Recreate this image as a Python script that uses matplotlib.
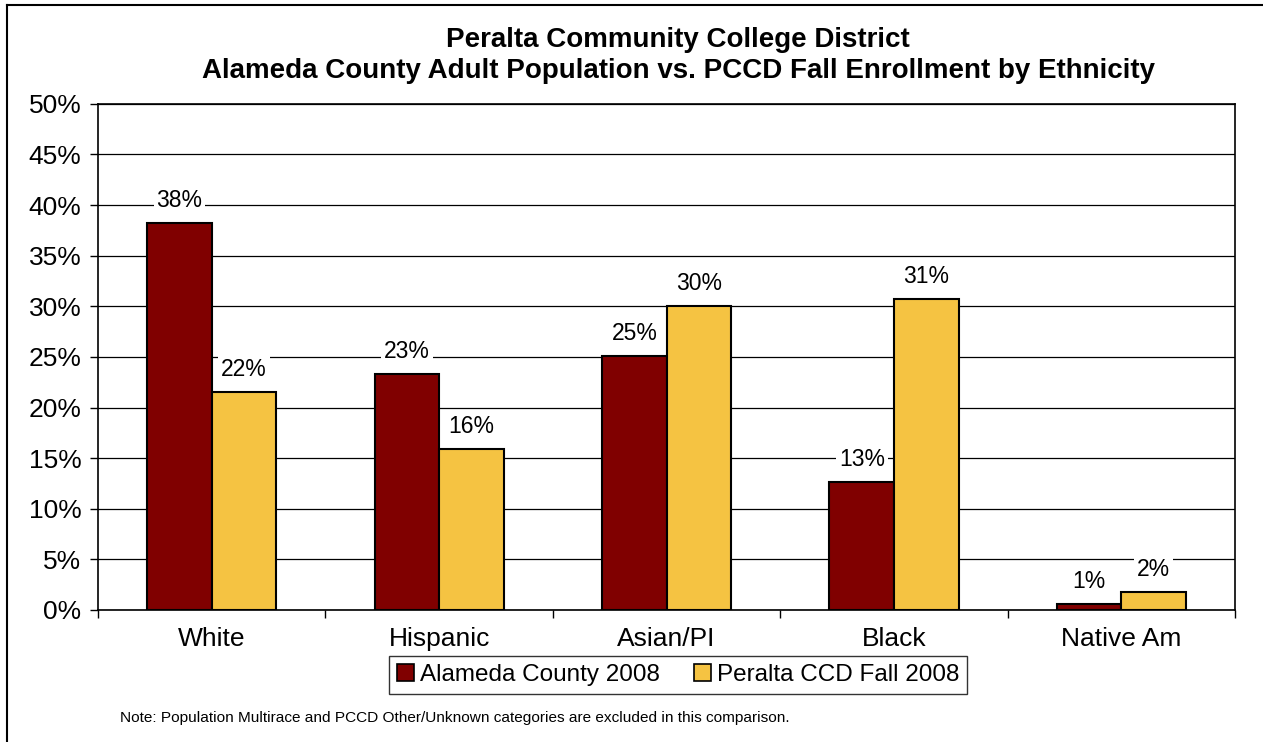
import matplotlib.pyplot as plt
import numpy as np
from matplotlib.lines import Line2D

plt.rcParams['font.family'] = ['Liberation Sans', 'DejaVu Sans']

categories = ["White", "Hispanic", "Asian/PI", "Black", "Native Am"]
alameda = [38.2, 23.3, 25.1, 12.6, 0.6]
peralta = [21.5, 15.9, 30.0, 30.7, 1.8]
alameda_labels = ["38%", "23%", "25%", "13%", "1%"]
peralta_labels = ["22%", "16%", "30%", "31%", "2%"]
series_names = ["Alameda County 2008", "Peralta CCD Fall 2008"]

red = "#800000"
gold = "#F5C342"

fig = plt.figure(figsize=(12.63, 7.42), dpi=100)
ax = fig.add_axes([0.0776, 0.178, 0.9004, 0.682])

x = np.arange(len(categories))
w = 0.284
b1 = ax.bar(x - w / 2, alameda, w, color=red, edgecolor="black", linewidth=1.5, zorder=3)
b2 = ax.bar(x + w / 2, peralta, w, color=gold, edgecolor="black", linewidth=1.5, zorder=3)

for bars, labels in ((b1, alameda_labels), (b2, peralta_labels)):
    for rect, lab in zip(bars, labels):
        ax.annotate(lab, (rect.get_x() + rect.get_width() / 2, rect.get_height()),
                    xytext=(0, 8), textcoords="offset points", ha="center", va="bottom",
                    fontsize=16.5, zorder=4,
                    bbox=dict(facecolor="white", edgecolor="none", pad=2))

ax.set_xlim(-0.5, len(categories) - 0.5)
ax.set_ylim(0, 50)
ax.set_yticks(np.arange(0, 51, 5))
ax.set_yticklabels([f"{v}%" for v in range(0, 51, 5)], fontsize=19)
ax.yaxis.grid(True, color="black", linewidth=0.9, zorder=0)
ax.set_axisbelow(True)

ax.set_xticks(np.arange(-0.5, len(categories), 1.0))
ax.set_xticklabels([])
ax.set_xticks(x, minor=True)
ax.set_xticklabels(categories, minor=True, fontsize=19)
ax.tick_params(axis="x", which="major", length=6, direction="out", width=1)
ax.tick_params(axis="x", which="minor", length=0, pad=12)
ax.tick_params(axis="y", length=6, width=1, pad=6)

for s in ax.spines.values():
    s.set_color("black")
    s.set_linewidth(1.2)

fig.text(0.537, 0.925, "Peralta Community College District\nAlameda County Adult Population vs. PCCD Fall Enrollment by Ethnicity",
         ha="center", va="center", fontsize=20, fontweight="bold", linespacing=1.28)

handles = [plt.Rectangle((0, 0), 1, 1, facecolor=red, edgecolor="black", linewidth=1.2),
           plt.Rectangle((0, 0), 1, 1, facecolor=gold, edgecolor="black", linewidth=1.2)]
fig.legend(handles, series_names, loc="center", bbox_to_anchor=(0.537, 0.090), ncol=2,
           fontsize=17.5, frameon=True, fancybox=False, edgecolor="black",
           handlelength=0.7, handleheight=0.7, handletextpad=0.25, columnspacing=1.4,
           borderpad=0.33, borderaxespad=0.3)

fig.text(0.095, 0.032, "Note: Population Multirace and PCCD Other/Unknown categories are excluded in this comparison.",
         ha="left", va="center", fontsize=11.1)

# outer chart border (only left and top visible in frame)
fig.add_artist(Line2D([0.0055, 0.0055], [0, 0.993], color="black", linewidth=1.5, transform=fig.transFigure))
fig.add_artist(Line2D([0.0055, 1.0], [0.993, 0.993], color="black", linewidth=1.5, transform=fig.transFigure))

fig.savefig("out.png", dpi=100)
